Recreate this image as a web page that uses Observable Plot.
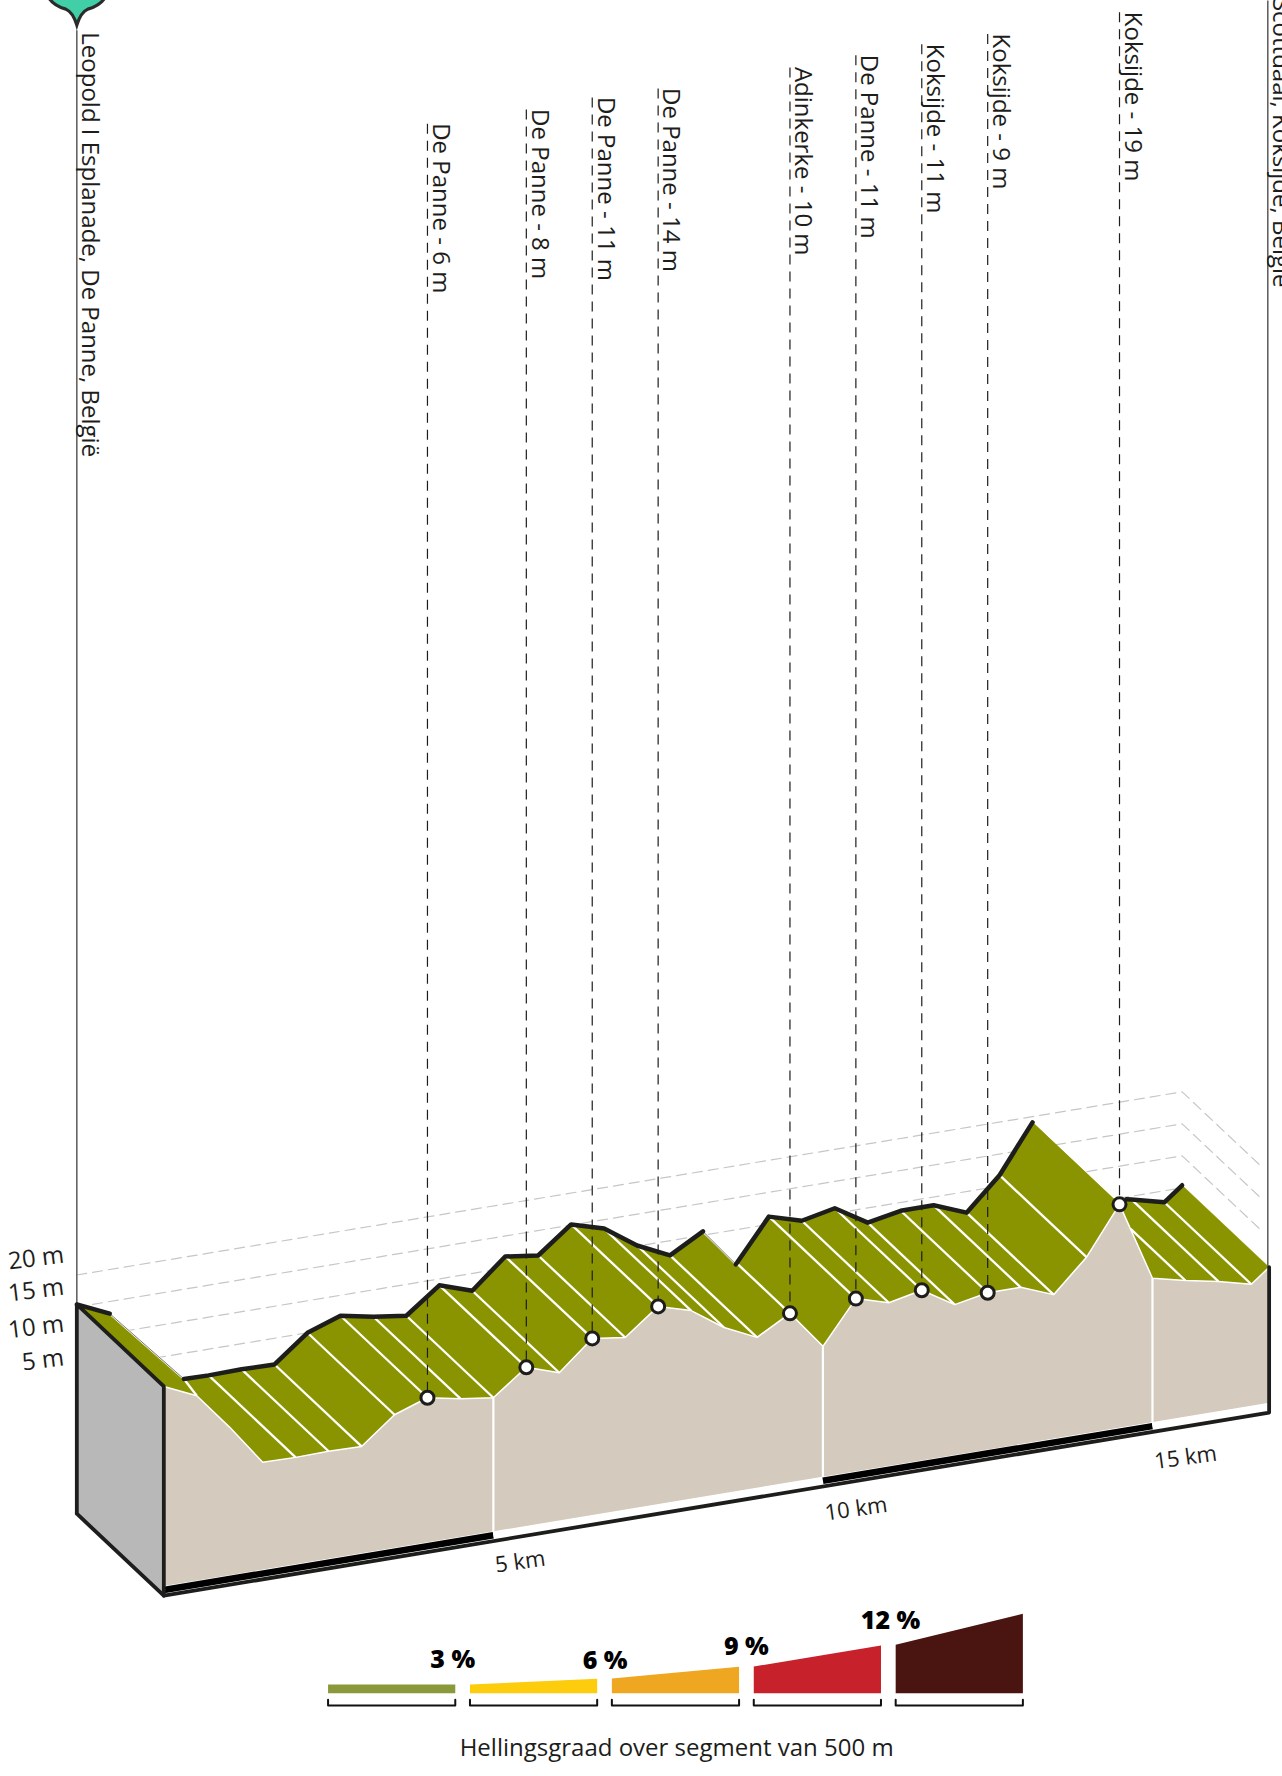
<!DOCTYPE html>
<html>
<head>
<meta charset="utf-8">
<style>html,body{margin:0;padding:0;background:#fff;overflow:hidden}svg{display:block}</style>
<script src="https://cdn.jsdelivr.net/npm/d3@7"></script>
<script src="https://cdn.jsdelivr.net/npm/@observablehq/plot@0.6"></script>
</head>
<body>
<script>
// Elevation profile, one value per 500 m (metres)
const profileKm = [0,0.5,1,1.5,2,2.5,3,3.5,4,4.5,5,5.5,6,6.5,7,7.5,8,8.5,9,9.5,10,10.5,11,11.5,12,12.5,13,13.5,14,14.5,15,15.5,16,16.5,16.77];
const profileM  = [14.7,12.4,6.6,0.3,0.2,0.3,0.2,4.3,6.1,5.1,4.4,8.3,6.6,11.1,10.4,14.4,12.9,9.4,7.0,9.9,3.9,10.5,9.0,10.1,7.0,8.0,8.0,6.0,11.0,18.4,6.0,4.8,3.8,2.5,4.7];

// Waypoints: index in the profile, text, height of the leader (scale units)
const pointIdx   = [8,11,13,15,19,21,23,25,29];
const pointNames = ["De Panne - 6 m","De Panne - 8 m","De Panne - 11 m","De Panne - 14 m","Adinkerke - 10 m","De Panne - 11 m","Koksijde - 11 m","Koksijde - 9 m","Koksijde - 19 m"];
const pointTops  = [212.0,214.2,216.1,217.5,220.8,222.7,224.4,226.0,229.4];

const startName = "Leopold I Esplanade, De Panne, België";
const finishName = "Scottdaal, Koksijde, België";

// Which cross-lines and ridge stretches are visible
const crossIdx = [4,5,6,7,8,9,10,11,12,13,14,15,16,17,18,19,21,22,23,24,25,26,27,28,32,33];
const ridgeRuns = [[0,1],[3.25,19],[20,29],[31.85,34]];
const ridgeThin = [[1,3.25],[19,20]];

const gridLevels = [5,10,15,20];
const gridLabelShift = [0.2,0.5,1.25,1.25];
const kmTicks = [5,10,15];
const kmTickIdx = [10,20,30];
const kmLabelShift = [0.4,0,-0.5];
const stripes = [[0,5,"#000"],[5,10,"#fff"],[10,15,"#000"],[15,16.77,"#fff"]];

// Legend
const legendRiseLeft  = [1.36,1.36,2.30,4.17,7.56];
const legendRiseRight = [1.36,2.25,4.13,7.45,12.41];
const legendColors = ["#8c993b","#fdcc0d","#efa621","#c7222b","#4a1410"];
const legendTexts = ["3 %","6 %","9 %","12 %"];
const legendTextKm = [4.384,6.695,8.838,11.026];
const legendTextV = [-27.97,-28.23,-26.05,-22.03];
const legendTitle = "Hellingsgraad over segment van 500 m";

// Oblique projection, in the units of the chart's two scales
const shear = 1.7067, depthKm = 1.32, depthM = 12.81, baseM = -18, floorM = -16.6, endKm = 16.77;
const px = (km, d = 0) => km - depthKm * d;
const py = (km, m, d = 0) => m + shear * km + depthM * d;
const P = (km, m, d, extra = {}) => ({x: px(km, d), y: py(km, m, d), ...extra});
const at = t => {
  const i = Math.floor(t), f = t - i;
  if (f === 0) return {km: profileKm[i], m: profileM[i]};
  return {km: profileKm[i] + f * (profileKm[i+1]-profileKm[i]), m: profileM[i] + f * (profileM[i+1]-profileM[i])};
};

const ink = "#1d1d1b", font = "Open Sans";

const faces = [];
for (let i = 0; i < profileKm.length - 1; i++) {
  const a = at(i), b = at(i+1);
  faces.push(P(a.km,a.m,0,{z:i}),P(b.km,b.m,0,{z:i}),P(b.km,b.m,1,{z:i}),P(a.km,a.m,1,{z:i}));
}
// the shoulder behind the first descent is seen as one straight edge
const s1 = at(1), s3 = at(3), sTop = at(3.25);
faces.push(P(s1.km,s1.m,1,{z:"s"}),P(sTop.km,sTop.m,1,{z:"s"}),P(s3.km,s3.m,0,{z:"s"}),P(s1.km,s1.m,0,{z:"s"}));

const beige = profileKm.map((k,i) => P(k,profileM[i],0));
beige.push(P(endKm,floorM,0),P(0,floorM,0));

const cross = crossIdx.map(i => {const a = at(i); return {x1:px(a.km,0),y1:py(a.km,a.m,0),x2:px(a.km,1),y2:py(a.km,a.m,1)};});
const a31 = at(31);
cross.push({x1:px(a31.km,0),y1:py(a31.km,a31.m,0),x2:px(a31.km,.63),y2:py(a31.km,a31.m,.63)});
cross.push({x1:px(s1.km,0),y1:py(s1.km,s1.m,0),x2:px(sTop.km,1),y2:py(sTop.km,sTop.m,1)});

const ridgeLine = runs => runs.flatMap((r,j) => {
  const ts = [r[0]];
  for (let t = Math.floor(r[0])+1; t < r[1]; t++) ts.push(t);
  ts.push(r[1]);
  return ts.map(t => {const a = at(t); return P(a.km,a.m,1,{z:j});});
});
const thinLine = ridgeThin.flatMap((r,j) => r.map(t => {const a = at(t); return P(a.km,a.m,1,{z:j});}));

const grid = gridLevels.flatMap(l => {
  const m = l - 0.7;
  return [P(0,m,1,{z:l}),P(endKm,m,1,{z:l}),P(endKm,m,0.08,{z:l})];
});

const a0 = at(0), aEnd = at(34);
const wall = [P(0,baseM,1),P(0,baseM,0),P(0,a0.m,0),P(0,a0.m,1)];
const rim = [P(0,baseM,0),P(endKm,baseM,0),P(endKm,aEnd.m,0)];

const pts = pointIdx.map((i,j) => {const a = at(i); return {x:px(a.km),y:py(a.km,a.m),top:pointTops[j],name:pointNames[j]};});

const legendStart = 2.492, legendStep = 2.153, legendWidth = 1.93, legendBase = -33.23, legendBr1 = -34.27, legendBr2 = -35.16;
const legendBars = legendColors.flatMap((c,i) => {
  const x0 = legendStart + i*legendStep, x1 = x0 + legendWidth;
  return [{x:x0,y:legendBase,c,z:i},{x:x1,y:legendBase,c,z:i},{x:x1,y:legendBase+legendRiseRight[i],c,z:i},{x:x0,y:legendBase+legendRiseLeft[i],c,z:i}];
});
const legendBrackets = legendColors.flatMap((c,i) => {
  const x0 = legendStart + i*legendStep, x1 = x0 + legendWidth;
  return [{x:x0,y:legendBr1,z:i},{x:x0,y:legendBr2,z:i},{x:x1,y:legendBr2,z:i},{x:x1,y:legendBr1,z:i}];
});

const pin = {draw(c){
  c.moveTo(0,0);
  c.quadraticCurveTo(-4,-13,-11,-16);
  c.quadraticCurveTo(-29,-21,-31,-36);
  c.arc(0,-36,31,Math.PI,0);
  c.quadraticCurveTo(29,-21,11,-16);
  c.quadraticCurveTo(4,-13,0,0);
  c.closePath();
}};

const chart = Plot.plot({
  width: 1282, height: 1776,
  marginTop: 0, marginRight: 0, marginBottom: 0, marginLeft: 0,
  style: {background: "#fff", fontFamily: font},
  x: {domain: [-2.478, 16.973], range: [0, 1282], axis: null},
  y: {domain: [-46.25, 231.25], range: [1776, 0], axis: null},
  color: {type: "identity"},
  marks: [
    // grid on the back wall
    Plot.line(grid, {x:"x",y:"y",z:"z",stroke:"#c6c6c6",strokeWidth:1.2,strokeDasharray:"10,6"}),
    // start and finish lines
    Plot.link([{}],{x1:()=>px(0,1),x2:()=>px(0,1),y1:()=>226.6,y2:()=>py(0,a0.m,1),stroke:"#5a5a5a",strokeWidth:1.5}),
    Plot.link([{}],{x1:()=>px(endKm)-0.02,x2:()=>px(endKm)-0.02,y1:()=>231.25,y2:()=>py(endKm,aEnd.m),stroke:"#5a5a5a",strokeWidth:1.5}),
    // road surface
    Plot.line(faces, {x:"x",y:"y",z:"z",fill:"#8a9400",stroke:"#8a9400",strokeWidth:0.4}),
    Plot.link(cross, {x1:"x1",y1:"y1",x2:"x2",y2:"y2",stroke:"#fff",strokeWidth:2.3}),
    Plot.line(thinLine, {x:"x",y:"y",z:"z",stroke:"#fff",strokeWidth:2}),
    Plot.line(thinLine, {x:"x",y:"y",z:"z",stroke:ink,strokeWidth:0.6}),
    // front face
    Plot.line(beige, {x:"x",y:"y",fill:"#d4cabd",stroke:"#fff",strokeWidth:1.5}),
    Plot.link(kmTicks.map((k,i)=>({k,m:profileM[kmTickIdx[i]]})), {
      x1:d=>px(d.k),x2:d=>px(d.k),y1:d=>py(d.k,d.m),y2:d=>py(d.k,floorM),stroke:"#fff",strokeWidth:2.2}),
    Plot.link(stripes, {x1:d=>px(d[0]),x2:d=>px(d[1]),y1:d=>py(d[0],-17.1),y2:d=>py(d[1],-17.1),stroke:d=>d[2],strokeWidth:6.5}),
    // left wall and rim
    Plot.line(wall, {x:"x",y:"y",fill:"#b8b8b8",stroke:"none"}),
    Plot.line([...wall,wall[0]], {x:"x",y:"y",stroke:ink,strokeWidth:3.8,strokeLinejoin:"round"}),
    Plot.line(rim, {x:"x",y:"y",stroke:ink,strokeWidth:3.8,strokeLinejoin:"round"}),
    // black ridge
    Plot.line(ridgeLine(ridgeRuns), {x:"x",y:"y",z:"z",stroke:ink,strokeWidth:4.5,strokeLinecap:"round",strokeLinejoin:"round"}),
    // waypoints
    Plot.link(pts, {x1:"x",x2:"x",y1:"top",y2:"y",stroke:ink,strokeWidth:1.2,strokeDasharray:"10,7"}),
    Plot.dot(pts, {x:"x",y:"y",r:6.5,fill:"#fff",stroke:ink,strokeWidth:3}),
    Plot.text(pts, {x:"x",y:"top",text:"name",rotate:90,textAnchor:"start",dx:13,dy:-0.5,fontSize:24,fill:ink,fontFamily:font}),
    Plot.text([startName], {x:()=>px(0,1),y:()=>226.6,text:d=>d,rotate:90,textAnchor:"start",dx:13,dy:2,fontSize:24,fill:ink,fontFamily:font}),
    Plot.text([finishName], {x:()=>px(endKm)-0.02,y:()=>186.4,text:d=>d,rotate:90,textAnchor:"end",dx:13,fontSize:24,fill:ink,fontFamily:font}),
    // start pin
    Plot.dot([{}], {x:()=>px(0,1),y:()=>227.4,r:30,symbol:pin,fill:"#41cfa8",stroke:"#2b2b2b",strokeWidth:3.2,strokeMiterlimit:10}),
    // elevation labels
    Plot.text(gridLevels, {x:()=>px(0,1),y:(l,i)=>py(0,l-0.7,1)+gridLabelShift[i],text:l=>`${l} m`,textAnchor:"end",rotate:-7,dx:-13,dy:-12,fontSize:24,fill:ink,fontFamily:font}),
    // distance labels
    Plot.text(kmTicks, {x:k=>px(k),y:(k,i)=>py(k,baseM)+kmLabelShift[i],text:k=>`${k} km`,textAnchor:"start",rotate:-8,dx:2,dy:27,fontSize:22,fill:ink,fontFamily:font}),
    // legend
    Plot.line(legendBars, {x:"x",y:"y",z:"z",fill:"c",stroke:"none"}),
    Plot.line(legendBrackets, {x:"x",y:"y",z:"z",stroke:"#111",strokeWidth:2}),
    Plot.text(legendTexts, {x:(d,i)=>legendTextKm[i],y:(d,i)=>legendTextV[i],text:d=>d,fontSize:25,fontWeight:800,fill:"#000",fontFamily:font}),
    Plot.text([legendTitle], {x:()=>7.781,y:()=>-41.9,text:d=>d,fontSize:24,fill:ink,fontFamily:font})
  ]
});
document.body.appendChild(chart);
</script>
</body>
</html>
